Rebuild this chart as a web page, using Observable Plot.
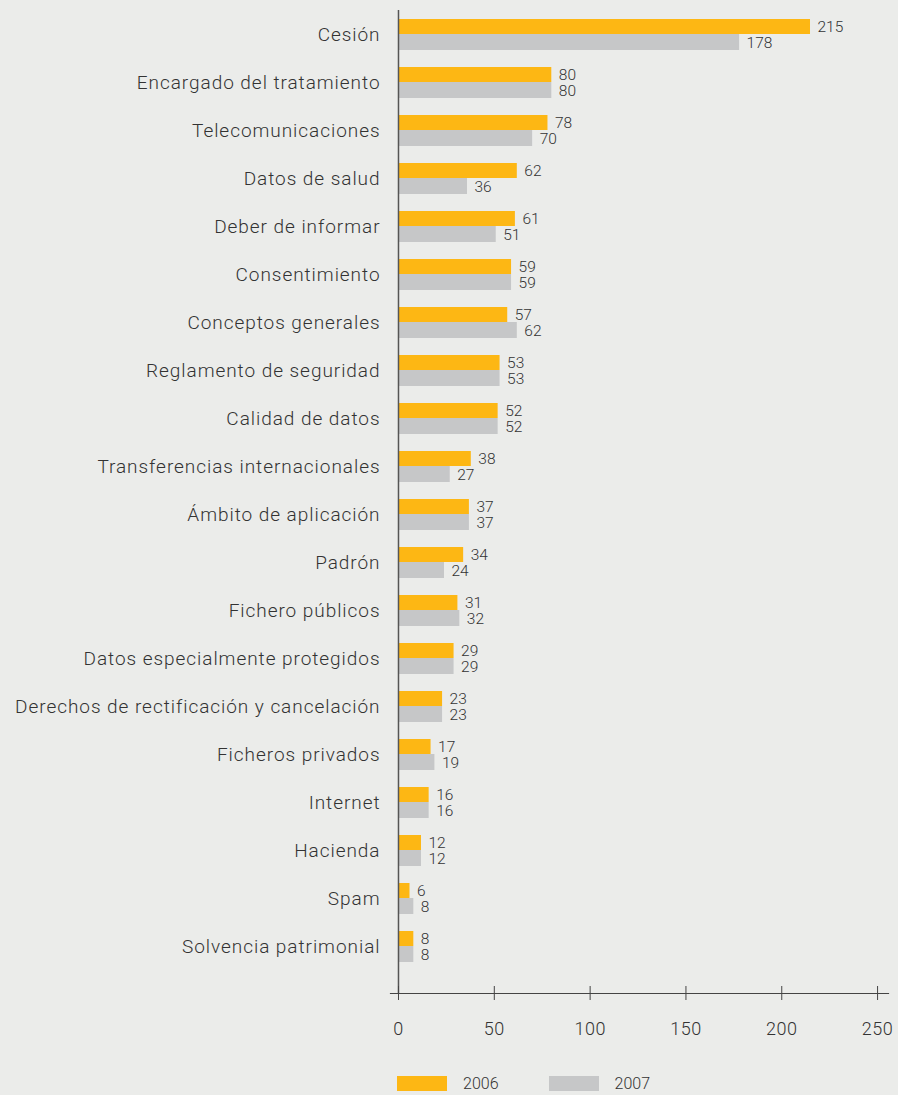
<!DOCTYPE html>
<html>
<head>
<meta charset="utf-8">
<script src="https://cdn.jsdelivr.net/npm/d3@7"></script>
<script src="https://cdn.jsdelivr.net/npm/@observablehq/plot@0.6"></script>
<style>
  html, body { margin: 0; padding: 0; background: #EBECEA; }
  body { width: 898px; height: 1095px; overflow: hidden; font-family: Roboto, "Noto Sans", sans-serif; font-weight: 300; color: #333; }
  #legend { display: flex; align-items: center; margin-left: 397px; margin-top: 24px; font-size: 16px; }
  .sw { width: 50px; height: 15px; display: inline-block; }
  .lab { margin-left: 16px; margin-right: 50px; }
  g[aria-label="y-axis tick label"] text { letter-spacing: 0.95px; }
  g[aria-label="x-axis tick label"] text { letter-spacing: 0.5px; }
</style>
</head>
<body>
<div id="chart"></div>
<div id="legend"></div>
<script>
const categories = ["Cesión", "Encargado del tratamiento", "Telecomunicaciones", "Datos de salud", "Deber de informar", "Consentimiento", "Conceptos generales", "Reglamento de seguridad", "Calidad de datos", "Transferencias internacionales", "Ámbito de aplicación", "Padrón", "Fichero públicos", "Datos especialmente protegidos", "Derechos de rectificación y cancelación", "Ficheros privados", "Internet", "Hacienda", "Spam", "Solvencia patrimonial"];
const values2006 = [215, 80, 78, 62, 61, 59, 57, 53, 52, 38, 37, 34, 31, 29, 23, 17, 16, 12, 6, 8];
const values2007 = [178, 80, 70, 36, 51, 59, 62, 53, 52, 27, 37, 24, 32, 29, 23, 19, 16, 12, 8, 8];
const xTicks = [0, 50, 100, 150, 200, 250];
const seriesNames = ["2006", "2007"];
const colors = ["#FDB714", "#C6C7C8"];

const d06 = categories.map((c, i) => ({cat: c, v: values2006[i]}));
const d07 = categories.map((c, i) => ({cat: c, v: values2007[i]}));

const textColor = "#333";
const plot = Plot.plot({
  width: 898,
  height: 1050,
  marginTop: 10,
  marginBottom: 57,
  marginLeft: 390,
  marginRight: 10,
  style: {background: "#EBECEA", fontFamily: "Roboto, 'Noto Sans', sans-serif", fontWeight: 300, color: textColor, overflow: "visible"},
  x: {domain: [-4.17, 255.7], label: null},
  y: {domain: categories, range: [10, 970], padding: 0, label: null},
  marks: [
    Plot.barX(d06, {x: "v", y: "cat", fill: colors[0], insetTop: 9, insetBottom: 24}),
    Plot.barX(d07, {x: "v", y: "cat", fill: colors[1], insetTop: 24, insetBottom: 8}),
    Plot.text(d06, {x: "v", y: "cat", text: d => String(d.v), dx: 7, dy: -7, textAnchor: "start", fontSize: 15.5, fill: textColor}),
    Plot.text(d07, {x: "v", y: "cat", text: d => String(d.v), dx: 7, dy: 8.5, textAnchor: "start", fontSize: 15.5, fill: textColor}),
    Plot.ruleX([0], {stroke: "#555", strokeWidth: 1.5}),
    Plot.frame({anchor: "bottom", stroke: "#444", strokeWidth: 1.2}),
    Plot.ruleX(xTicks, {x: d => d, stroke: "#444", strokeWidth: 1, insetTop: 976, insetBottom: -7}),
    Plot.axisX({ticks: xTicks, tickSize: 0, tickPadding: 29, fontSize: 18, tickFormat: d => String(d), fill: textColor, label: null}),
    Plot.axisY({tickSize: 0, tickPadding: 10, fontSize: 19, fill: textColor, label: null})
  ]
});
document.getElementById("chart").appendChild(plot);

const legend = document.getElementById("legend");
seriesNames.forEach((n, i) => {
  const sw = document.createElement("span");
  sw.className = "sw";
  sw.style.background = colors[i];
  const lb = document.createElement("span");
  lb.className = "lab";
  lb.textContent = n;
  legend.appendChild(sw);
  legend.appendChild(lb);
});
</script>
</body>
</html>
